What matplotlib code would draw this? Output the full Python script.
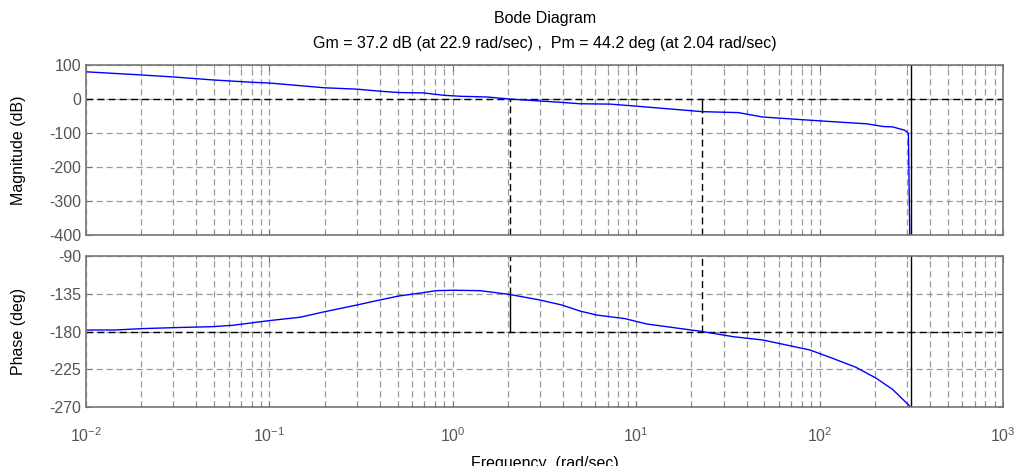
import numpy as np
from matplotlib import pyplot as plt
from matplotlib.ticker import LogLocator, NullFormatter

plt.rcParams['font.family'] = ['Liberation Sans', 'DejaVu Sans']
plt.rcParams['axes.unicode_minus'] = False
plt.rcParams['mathtext.fontset'] = 'custom'
plt.rcParams['mathtext.rm'] = 'Liberation Sans'
plt.rcParams['mathtext.it'] = 'Liberation Sans:italic'
plt.rcParams['mathtext.bf'] = 'Liberation Sans:bold'

# values
mag_freq = [0.01, 0.0197, 0.0297, 0.0494, 0.0818, 0.1, 0.2, 0.3, 0.4, 0.51, 0.69, 0.89,
            1.1, 1.53, 2.04, 3.93, 4.94, 7.2, 10.0, 22.9, 36.0, 49.0, 92.0, 181.0,
            223.0, 250.0, 292.0, 305.0, 314.16]
mag_db = [80, 71, 65, 56, 49, 47, 33, 29, 23, 19, 18, 11,
          8, 6, 0, -10, -14, -15, -21, -37.2, -40, -53, -63, -73,
          -81, -82, -92, -101, -600]

phase_freq = [0.01, 0.0144, 0.02, 0.03, 0.049, 0.063, 0.1, 0.147, 0.2, 0.3, 0.4, 0.51,
              0.69, 0.81, 1.0, 1.41, 2.04, 2.98, 3.93, 4.94, 6.07, 8.7, 11.4, 22.9,
              33.9, 49.0, 88.5, 118.0, 158.0, 204.0, 250.0, 314.16]
phase_deg = [-178.2, -178.2, -176.6, -175.4, -174.2, -172.6, -167, -163, -156.4, -148.4, -142.4, -137.6,
             -133.7, -131.3, -130.8, -131.3, -135.8, -142.4, -148.4, -155.6, -160.3, -164.7, -171, -180,
             -186.2, -190.1, -202, -212, -222.7, -235.8, -249, -270]

gm_db = 37.2
gm_freq = 22.9
pm_deg = 44.2
pm_freq = 2.04
nyq_freq = 314.16

mag_ticks = [100, 0, -100, -200, -300, -400]
phase_ticks = [-90, -135, -180, -225, -270]

grid_col = '#9a9a9a'
frame_col = '#777777'
tick_col = '#555555'
fsize = 11.5

fig = plt.figure(figsize=(10.2, 4.66), dpi=100)
ax1 = fig.add_axes([0.0843, 0.4957, 0.899, 0.3648])
ax2 = fig.add_axes([0.0843, 0.1266, 0.899, 0.324])

for ax in (ax1, ax2):
    ax.set_xscale('log')
    ax.set_xlim(1e-2, 1e3)
    ax.xaxis.set_major_locator(LogLocator(base=10, numticks=10))
    ax.xaxis.set_minor_locator(LogLocator(base=10, subs=np.arange(2, 10), numticks=20))
    ax.xaxis.set_minor_formatter(NullFormatter())
    ax.grid(True, which='major', axis='both', color=grid_col, linestyle=(0, (5, 3)), linewidth=0.9)
    ax.grid(True, which='minor', axis='x', color=grid_col, linestyle=(0, (5, 3)), linewidth=0.9)
    ax.tick_params(which='both', direction='in', top=True, right=True, colors=frame_col,
                   labelcolor=tick_col, labelsize=fsize)
    ax.tick_params(which='major', length=4)
    ax.tick_params(which='minor', length=2.5)
    for s in ax.spines.values():
        s.set_color(frame_col)
        s.set_linewidth(1.2)
    ax.set_axisbelow(True)

# magnitude
ax1.set_ylim(-400, 100)
ax1.set_yticks(mag_ticks)
ax1.tick_params(labelbottom=False)
ax1.axhline(0, color='black', linestyle=(0, (5, 3)), linewidth=1)
ax1.plot(mag_freq, mag_db, color='blue', linewidth=1)
ax1.plot([pm_freq, pm_freq], [-400, 0], color='black', linestyle=(0, (5, 3)), linewidth=1)
ax1.plot([gm_freq, gm_freq], [-400, -gm_db], color='black', linestyle=(0, (5, 3)), linewidth=1)
ax1.plot([gm_freq, gm_freq], [-gm_db, 0], color='black', linewidth=1)
ax1.axvline(nyq_freq, color='black', linewidth=1)
ax1.set_ylabel('Magnitude (dB)', fontsize=fsize)
ax1.yaxis.set_label_coords(-0.065, 0.5)

# phase
ax2.set_ylim(-270, -90)
ax2.set_yticks(phase_ticks)
ax2.axhline(-180, color='black', linestyle=(0, (5, 3)), linewidth=1)
ax2.plot(phase_freq, phase_deg, color='blue', linewidth=1)
ax2.plot([gm_freq, gm_freq], [-180, -90], color='black', linestyle=(0, (5, 3)), linewidth=1)
ax2.plot([pm_freq, pm_freq], [-180 + pm_deg, -90], color='black', linestyle=(0, (5, 3)), linewidth=1)
ax2.plot([pm_freq, pm_freq], [-180, -180 + pm_deg], color='black', linewidth=1)
ax2.axvline(nyq_freq, color='black', linewidth=1)
ax2.set_ylabel('Phase (deg)', fontsize=fsize)
ax2.yaxis.set_label_coords(-0.065, 0.5)
ax2.tick_params(axis='x', pad=14)

fig.text(0.534, 0.961, 'Bode Diagram', ha='center', va='center', fontsize=fsize)
fig.text(0.534, 0.907, f'Gm = {gm_db} dB (at {gm_freq} rad/sec) ,  Pm = {pm_deg} deg (at {pm_freq} rad/sec)',
         ha='center', va='center', fontsize=fsize)
fig.text(0.534, -0.004, 'Frequency  (rad/sec)', ha='center', va='baseline', fontsize=fsize)

fig.savefig('out.png', dpi=100)
